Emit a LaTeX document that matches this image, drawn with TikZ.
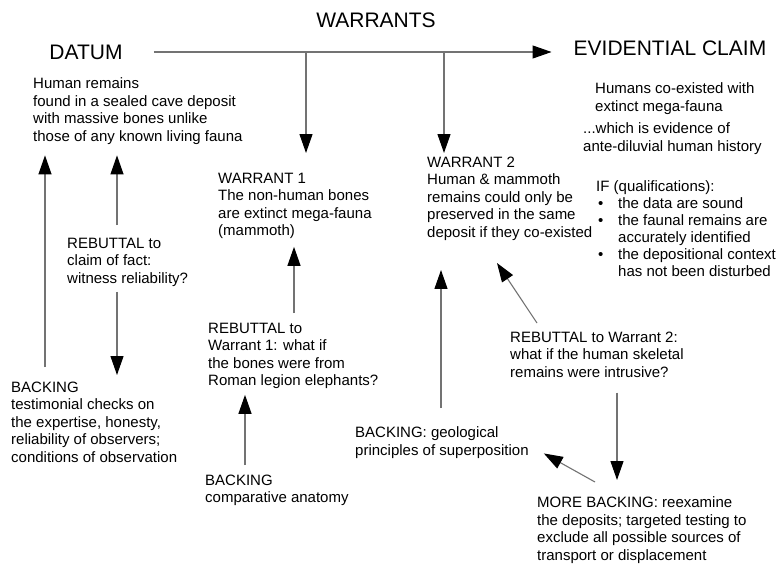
\documentclass[tikz,border=0pt]{standalone}
\usepackage{fontspec}
\setmainfont{Liberation Sans}
\usetikzlibrary{arrows.meta,calc}

\tikzset{
  txt/.style={anchor=north west, align=left, inner sep=0pt, font=\fontsize{15}{17.5}\selectfont},
  hd/.style={inner sep=0pt, font=\fontsize{21}{25}\selectfont},
  arr/.style={draw=black!55, line width=1.1pt, -{Triangle[length=19pt,width=13pt,color=black]}},
  link/.style={draw=black!55, line width=1.1pt}
}

\begin{document}
\begin{tikzpicture}[x=1pt, y=-1pt]
      \path[use as bounding box, fill=white] (0,0) rectangle (784,563);

      \node[hd] (datum_hd) at (86,52) {DATUM};
      \node[hd] (warrants_hd) at (376,20) {WARRANTS};
      \node[hd] (claim_hd) at (670,48) {EVIDENTIAL CLAIM};

      \node[txt] (datum) at (33,77.5) {Human remains\\found in a sealed cave deposit\\with massive bones unlike\\those of any known living fauna};
      \node[txt] (claim) at (595,82.5) {Humans co-existed with\\extinct mega-fauna};
      \node[txt] (history) at (583,122.5) {...which is evidence of\\ante-diluvial human history};
      \node[txt, font=\fontsize{15}{17}\selectfont] (qual) at (596,180) {IF (qualifications):\\
        \makebox[22pt][l]{\hspace*{2pt}\textbullet}the data are sound\\
        \makebox[22pt][l]{\hspace*{2pt}\textbullet}the faunal remains are\\
        \hspace*{22pt}accurately identified\\
        \makebox[22pt][l]{\hspace*{2pt}\textbullet}the depositional context\\
        \hspace*{22pt}has not been disturbed};

      \node[txt] (warrant1) at (218,172.5) {WARRANT 1\\The non-human bones\\are extinct mega-fauna\\(mammoth)};
      \node[txt] (warrant2) at (427,156.5) {WARRANT 2\\Human \& mammoth\\remains could only be\\preserved in the same\\deposit if they co-existed};

      \node[txt] (rebuttal_fact) at (67,237.5) {REBUTTAL to\\claim of fact:\\witness reliability?};
      \node[txt] (backing_fact) at (11,381.5) {BACKING\\testimonial checks on\\the expertise, honesty,\\reliability of observers;\\conditions of observation};
      \node[txt] (rebuttal_w1) at (208,322.5) {REBUTTAL to\\Warrant 1: what if\\the bones were from\\Roman legion elephants?};
      \node[txt] (backing_w1) at (205,474.5) {BACKING\\comparative anatomy};
      \node[txt] (rebuttal_w2) at (510,331.5) {REBUTTAL to Warrant 2:\\what if the human skeletal\\remains were intrusive?};
      \node[txt] (backing_geo) at (355,426.5) {BACKING: geological\\principles of superposition};
      \node[txt] (backing_more) at (537,496.5) {MORE BACKING: reexamine\\the deposits; targeted testing to\\exclude all possible sources of\\transport or displacement};

      \draw[arr] ($(datum_hd.east)+(31,0)$) -- ($(claim_hd.west |- datum_hd.east)+(-22,0)$);
      \draw[arr] ($(warrant1.north west |- datum_hd.east)+(88,0)$) -- ($(warrant1.north west)+(88,-19.5)$);
      \draw[arr] ($(warrant2.north west |- datum_hd.east)+(17,0)$) -- ($(warrant2.north west)+(17,-3.5)$);

      \draw[arr] ($(backing_fact.north west)+(34,-14.5)$) -- ($(datum.south west)+(12,11)$);
      \draw[arr] ($(rebuttal_fact.north west)+(50,-12.5)$) -- ($(datum.south west)+(84,11)$);
      \draw[arr] ($(rebuttal_fact.south west)+(50,5.5)$) -- ($(backing_fact.north west)+(106,-6.5)$);
      \draw[arr] ($(rebuttal_w1.north west)+(86,-9.5)$) -- ($(warrant1.south west)+(76,8)$);
      \draw[arr] ($(backing_w1.north west)+(40,-9.5)$) -- ($(rebuttal_w1.south west)+(37,6)$);
      \draw[arr] ($(backing_geo.north west)+(86,-18.5)$) -- ($(warrant2.south west)+(14,29.5)$);
      \draw[arr] ($(rebuttal_w2.north west)+(27,-8.5)$) -- ($(warrant2.south west)+(70,22.5)$);
      \draw[arr] ($(rebuttal_w2.south west)+(107,15)$) -- ($(backing_more.north west)+(80,-16.5)$);
      \draw[arr] ($(backing_more.north west)+(58,-14.5)$) -- ($(backing_geo.east)+(15,11)$);
\end{tikzpicture}
\end{document}
